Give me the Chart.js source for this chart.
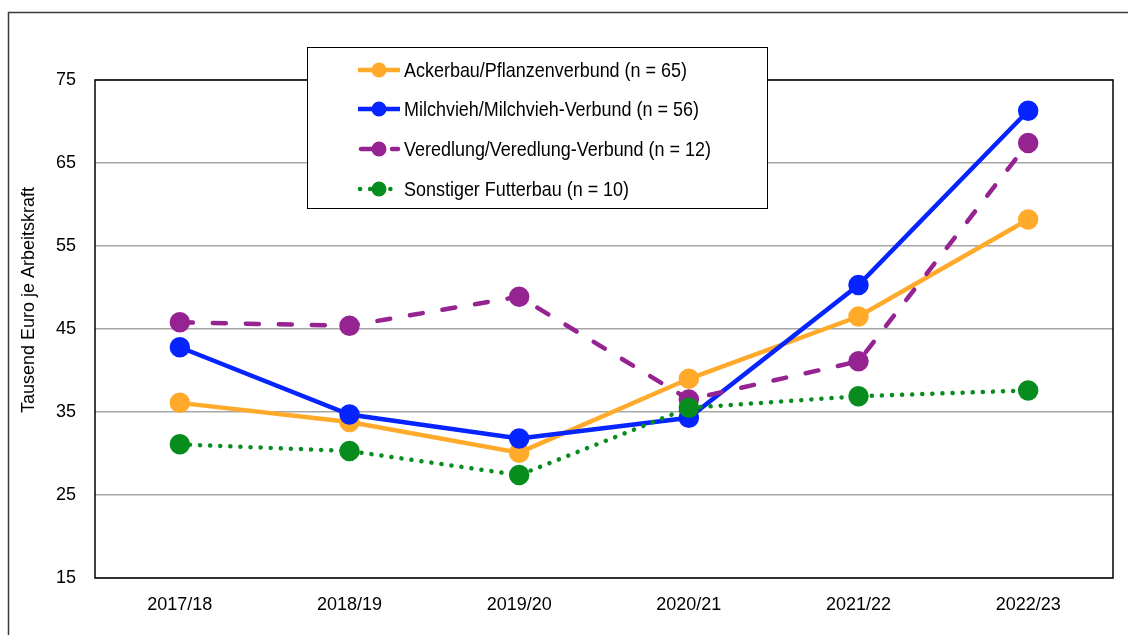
<!DOCTYPE html>
<html>
<head>
<meta charset="utf-8">
<script src="https://cdn.jsdelivr.net/npm/chart.js@4.4.1/dist/chart.umd.min.js"></script>
<style>
  html, body { margin: 0; padding: 0; background: #fff; }
  #wrap { width: 1128px; height: 635px; position: relative; }
</style>
</head>
<body>
<div id="wrap"><canvas id="grafico"></canvas></div>
<script>
// datos
const jahre = ["2017/18", "2018/19", "2019/20", "2020/21", "2021/22", "2022/23"];
const ackerbau = [36.1, 33.8, 30.1, 39.0, 46.5, 58.2];
const milchvieh = [42.8, 34.7, 31.8, 34.3, 50.3, 71.3];
const veredlung = [45.8, 45.4, 48.9, 36.5, 41.1, 67.4];
const futterbau = [31.1, 30.3, 27.4, 35.5, 36.9, 37.6];
const yTicks = [15, 25, 35, 45, 55, 65, 75];
const tituloY = "Tausend Euro je Arbeitskraft";

const nombres = [
  "Ackerbau/Pflanzenverbund (n = 65)",
  "Milchvieh/Milchvieh-Verbund (n = 56)",
  "Veredlung/Veredlung-Verbund (n = 12)",
  "Sonstiger Futterbau (n = 10)"
];
const colores = ["#FFAA2A", "#0524FF", "#952391", "#078C1E"];
const guiones = [[], [], [13, 20], [0.1, 10]];

const fuente = "'Liberation Sans', Arial, sans-serif";

const serie = (i, datos, orden) => ({
  label: nombres[i],
  data: datos,
  borderColor: colores[i],
  backgroundColor: colores[i],
  pointBackgroundColor: colores[i],
  pointBorderColor: colores[i],
  borderWidth: 4.5,
  borderDash: guiones[i],
  borderCapStyle: i >= 2 ? "round" : "butt",
  pointRadius: 8,
  pointHoverRadius: 8,
  tension: 0,
  order: orden
});

// texto un poco angosto (como Arial Narrow)
const textoAngosto = (ctx, txt, x, y, size) => {
  ctx.save();
  ctx.translate(x, y);
  ctx.scale(0.855, 1);
  ctx.font = size + "px " + fuente;
  ctx.fillText(txt, 0, 0);
  ctx.restore();
};

// marco exterior + borde del área del gráfico + título del eje
const marco = {
  id: "marco",
  beforeDraw(chart) {
    const ctx = chart.ctx;
    ctx.save();
    ctx.fillStyle = "#fff";
    ctx.fillRect(0, 0, chart.width, chart.height);
    ctx.strokeStyle = "#3a3a3a";
    ctx.lineWidth = 1.5;
    ctx.strokeRect(8.5, 12.5, chart.width + 20, chart.height + 20);
    ctx.translate(29, 300);
    ctx.rotate(-Math.PI / 2);
    ctx.fillStyle = "#000";
    ctx.font = "18px " + fuente;
    ctx.textAlign = "center";
    ctx.textBaseline = "middle";
    ctx.fillText(tituloY, 0, 0);
    ctx.restore();
  },
  afterDatasetsDraw(chart) {
    const a = chart.chartArea;
    const ctx = chart.ctx;
    ctx.save();
    ctx.strokeStyle = "#000";
    ctx.lineWidth = 1.5;
    ctx.strokeRect(a.left, a.top, a.right - a.left, a.bottom - a.top);
    ctx.restore();
  }
};

// leyenda con caja
const leyenda = {
  id: "leyenda",
  afterDraw(chart) {
    const ctx = chart.ctx;
    ctx.save();
    ctx.fillStyle = "#fff";
    ctx.fillRect(307, 47, 460, 161);
    ctx.strokeStyle = "#000";
    ctx.lineWidth = 1;
    ctx.strokeRect(307.5, 47.5, 460, 161);
    const filas = [70, 109, 149, 189];
    filas.forEach((y, i) => {
      ctx.strokeStyle = colores[i];
      ctx.fillStyle = colores[i];
      ctx.lineWidth = 4.5;
      ctx.lineCap = i >= 2 ? "round" : "butt";
      ctx.beginPath();
      if (i === 2) {
        ctx.moveTo(361, y); ctx.lineTo(376, y);
        ctx.moveTo(392, y); ctx.lineTo(398, y);
      } else if (i === 3) {
        ctx.setLineDash(guiones[3]);
        ctx.moveTo(360, y); ctx.lineTo(400, y);
      } else {
        ctx.moveTo(358, y); ctx.lineTo(400, y);
      }
      ctx.stroke();
      ctx.setLineDash([]);
      ctx.beginPath();
      ctx.arc(379, y, 7.5, 0, Math.PI * 2);
      ctx.fill();
      ctx.fillStyle = "#000";
      ctx.textBaseline = "middle";
      ctx.textAlign = "left";
      textoAngosto(ctx, nombres[i], 404, y + 1, 21);
    });
    ctx.restore();
  }
};

const grafico = new Chart(document.getElementById("grafico"), {
  type: "line",
  data: {
    labels: jahre,
    datasets: [
      serie(0, ackerbau, 4),
      serie(1, milchvieh, 3),
      serie(2, veredlung, 2),
      serie(3, futterbau, 1)
    ]
  },
  options: {
    responsive: true,
    maintainAspectRatio: false,
    animation: false,
    layout: { padding: { left: 20, top: 80, right: 15, bottom: 0 } },
    plugins: {
      legend: { display: false },
      tooltip: { enabled: false }
    },
    scales: {
      x: {
        offset: true,
        grid: { display: false, drawTicks: false },
        border: { display: false },
        ticks: {
          color: "#000",
          font: { family: fuente, size: 18 },
          padding: 16,
          maxRotation: 0
        },
        afterFit(s) { s.height = 57; }
      },
      y: {
        min: 15,
        max: 75,
        afterBuildTicks(s) { s.ticks = yTicks.map(v => ({ value: v })); },
        grid: { color: "#A6A6A6", lineWidth: 1.5, drawTicks: false },
        border: { display: false },
        ticks: {
          color: "#000",
          font: { family: fuente, size: 18 },
          padding: 19
        },
        afterFit(s) { s.width = 75; }
      }
    }
  },
  plugins: [marco, leyenda]
});
</script>
</body>
</html>
